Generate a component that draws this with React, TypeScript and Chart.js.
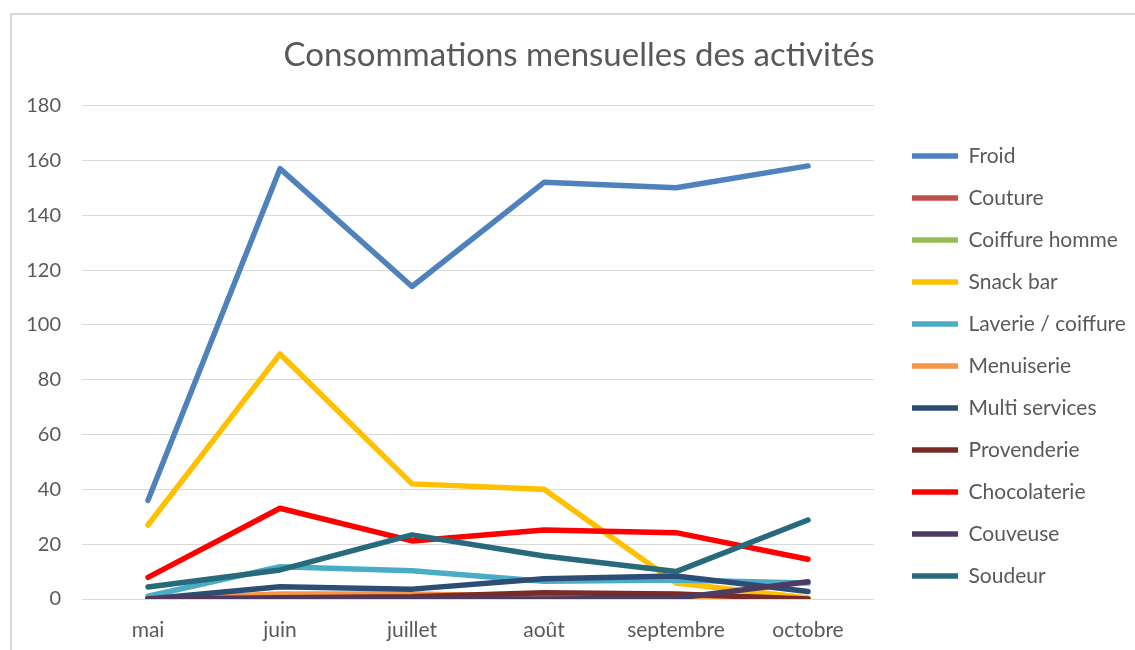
import { useEffect, useRef } from "react";
import { Chart, registerables } from "chart.js";

Chart.register(...registerables);

// ---- Data ----
const months = ["mai", "juin", "juillet", "août", "septembre", "octobre"];
const seriesNames = [
  "Froid",
  "Couture",
  "Coiffure homme",
  "Snack bar",
  "Laverie / coiffure",
  "Menuiserie",
  "Multi services",
  "Provenderie",
  "Chocolaterie",
  "Couveuse",
  "Soudeur",
];
const froid = [36, 157, 114, 152, 150, 158];
const couture = [0, 0, 0, 0, 0, 0];
const coiffureHomme = [0, 0, 0, 0, 0, 0];
const snackBar = [27, 89.4, 42, 40, 5.8, 0.4];
const laverieCoiffure = [1, 11.8, 10.3, 6.5, 6.9, 5.8];
const menuiserie = [0, 1.8, 1.8, 1, 0.5, 0];
const multiServices = [0, 4.5, 3.6, 7.4, 8.4, 2.7];
const provenderie = [0, 0.5, 0.8, 2.3, 1.8, 0];
const chocolaterie = [7.9, 33.1, 21.2, 25.2, 24.2, 14.5];
const couveuse = [0, 0, 0, 0, 0.3, 6.3];
const soudeur = [4.4, 10.6, 23.4, 15.7, 10, 28.8];
const seriesValues = [
  froid,
  couture,
  coiffureHomme,
  snackBar,
  laverieCoiffure,
  menuiserie,
  multiServices,
  provenderie,
  chocolaterie,
  couveuse,
  soudeur,
];
const seriesColors = [
  "#4F81BD",
  "#C0504D",
  "#9BBB59",
  "#FFC000",
  "#4BACC6",
  "#F79646",
  "#2C4D75",
  "#772C2A",
  "#FF0000",
  "#4D3B62",
  "#276A7C",
];
const yMin = 0;
const yMax = 180;
const yStep = 20;
const chartTitle = "Consommations mensuelles des activités";

const FONT = "Lato, 'Open Sans', sans-serif";
const TEXT = "#595959";
const LEGEND_W = 261;
const LEGEND_DX = 17;
const LEGEND_DY = 41;

const legendPlacer = {
  id: "legendPlacer",
  afterInit(chart: any) {
    const lg = chart.legend;
    if (!lg) return;
    const fit = lg.fit.bind(lg);
    lg.fit = () => {
      fit();
      lg.width = LEGEND_W;
    };
  },
  afterLayout(chart: any) {
    const lg = chart.legend;
    if (!lg) return;
    lg.left += LEGEND_DX;
    lg.right += LEGEND_DX;
    lg.top += LEGEND_DY;
    lg.bottom += LEGEND_DY;
  },
};

export default function App() {
  const ref = useRef<HTMLCanvasElement | null>(null);

  useEffect(() => {
    if (!ref.current) return;
    const n = seriesNames.length;
    const chart = new Chart(ref.current, {
      type: "line",
      data: {
        labels: months,
        datasets: seriesNames.map((name, i) => ({
          label: name,
          data: seriesValues[i],
          borderColor: seriesColors[i],
          backgroundColor: seriesColors[i],
          borderWidth: 5.5,
          borderCapStyle: "round" as const,
          borderJoinStyle: "round" as const,
          pointRadius: 0,
          pointHoverRadius: 0,
          tension: 0,
          fill: false,
          order: n - i,
        })),
      },
      options: {
        responsive: false,
        animation: false,
        maintainAspectRatio: false,
        layout: { padding: { left: 23, top: 0, right: 0, bottom: 0 } },
        plugins: {
          title: {
            display: true,
            text: chartTitle,
            color: TEXT,
            font: { family: FONT, size: 33, weight: "normal" },
            padding: { top: 36, bottom: 30 },
          },
          legend: {
            display: true,
            position: "right",
            align: "center",
            labels: {
              usePointStyle: true,
              pointStyle: "line",
              pointStyleWidth: 46,
              padding: 21,
              color: TEXT,
              font: { family: FONT, size: 21 },
              sort: (a: any, b: any) => a.datasetIndex - b.datasetIndex,
            },
          },
          tooltip: { enabled: false },
        },
        scales: {
          x: {
            offset: true,
            grid: { display: false, offset: true },
            border: { display: false },
            ticks: {
              color: TEXT,
              font: { family: FONT, size: 21 },
              padding: 11,
              maxRotation: 0,
            },
            afterFit: (s: any) => {
              s.height = 51;
            },
          },
          y: {
            min: yMin,
            max: yMax,
            grid: { color: "#D9D9D9", lineWidth: 1, drawTicks: false },
            border: { display: false },
            ticks: {
              stepSize: yStep,
              color: TEXT,
              font: { family: FONT, size: 20 },
              padding: 21,
            },
            afterFit: (s: any) => {
              s.width = 59;
            },
          },
        },
      },
      plugins: [legendPlacer],
    });
    return () => chart.destroy();
  }, []);

  return (
    <div
      style={{
        position: "fixed",
        left: 0,
        top: 0,
        width: 1135,
        height: 650,
        overflow: "hidden",
        background: "#fff",
      }}
    >
      <div
        style={{
          position: "absolute",
          left: 10,
          top: 13,
          width: 1200,
          height: 700,
          borderTop: "2px solid #D9D9D9",
          borderLeft: "2px solid #D9D9D9",
        }}
      />
      <canvas
        ref={ref}
        width={1135}
        height={650}
        style={{ position: "absolute", left: 0, top: 0, width: 1135, height: 650 }}
      />
    </div>
  );
}
